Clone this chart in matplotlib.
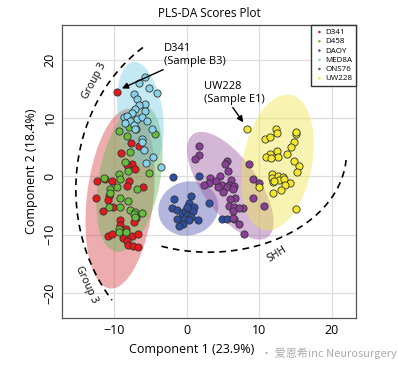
import numpy as np
import matplotlib.pyplot as plt
from matplotlib.patches import Ellipse

# scores (component 1, component 2)
d341_x = [-9.6, -7.7, -6.65, -9.08, -7.56, -7.1, -8.25, -12.4, -11.3, -10.3, -8.0, -8.25, -6.1,
          -12.5, -10.7, -10.9, -11.6, -10.2, -9.17, -7.0, -7.34, -9.17, -8.39, -10.9, -10.3,
          -8.72, -7.56, -6.79, -8.86, -8.25, -8.16, -7.47, -6.79]
d341_y = [14.5, 5.7, 5.3, 4.1, 2.2, 1.3, 1.9, -0.7, -0.4, -0.7, -0.7, -1.7, -1.9,
          -3.7, -3.4, -4.1, -5.9, -5.3, -7.4, -7.2, -7.9, -8.3, -9.1, -10.2, -9.9,
          -10.2, -10.2, -9.8, -10.6, -11.0, -11.7, -12.0, -12.1]

d458_x = [-9.4, -8.25, -4.34, -8.0, -7.0, -7.79, -8.52, -8.07, -5.27, -9.31, -9.17, -11.4, -10.6,
          -9.63, -6.87, -10.6, -9.17, -8.16, -10.7, -9.21, -7.79, -7.1, -6.18, -7.34, -7.1,
          -9.31, -9.31, -8.39]
d458_y = [7.8, 6.9, 7.2, 8.5, 8.1, 4.2, 2.5, 0.9, 0.6, 0.5, -0.4, -0.2, -2.1,
          -1.8, -2.1, -2.9, -3.7, -4.2, -5.3, -5.3, -5.8, -6.1, -6.3, -6.5, -6.9,
          -9.1, -9.6, -9.5]

daoy_x = [-1.96, 1.72, 0.57, -1.82, 3.1, 0.34, 1.03, -2.04, -1.4, -0.7, -0.21, 0.34, 0.8,
          -0.03, 0.57, -1.36, -0.44, 1.49, 0.25, -0.58, -1.03, 4.85, 5.49, -0.03]
daoy_y = [-0.1, 0.05, -3.3, -3.8, -4.6, -4.6, -5.3, -5.5, -5.8, -6.2, -5.9, -5.7, -5.9,
          -6.7, -7.0, -7.3, -7.3, -7.4, -7.5, -8.1, -8.5, -7.3, -7.3, -5.2]

med8a_x = [-5.72, -6.65, -5.27, -4.11, -7.34, -6.87, -5.72, -6.65, -7.1, -5.72, -7.56, -8.72,
           -8.25, -6.87, -6.18, -5.49, -7.79, -8.48, -7.34, -7.1, -4.8, -6.18, -6.18, -5.96,
           -4.72, -5.63, -3.56]
med8a_y = [17.1, 16.0, 15.1, 14.3, 14.1, 13.2, 12.5, 12.3, 11.5, 11.3, 10.9, 10.2,
           10.3, 9.8, 10.2, 9.5, 9.5, 9.2, 8.9, 8.2, 8.1, 6.5, 5.9, 4.6,
           3.3, 2.3, 1.6]

ons76_x = [1.63, 1.63, 1.17, 5.54, 5.31, 8.62, 5.63, 4.62, 3.24, 4.03, 6.1, 3.0, 2.41, 4.85,
           5.86, 6.55, 4.25, 5.49, 6.32, 5.03, 9.17, 9.08, 6.69, 6.0, 5.86, 6.55, 7.7, 7.14,
           6.32, 6.55, 7.24, 9.9, 10.6, 7.93, 6.32]
ons76_y = [5.2, 3.6, 3.0, 2.6, 2.1, 2.1, 0.9, 0.05, -0.2, -0.8, -0.6, -1.1, -1.5, -1.4,
           -1.4, -1.7, -1.8, -1.9, -2.2, -2.7, -0.5, -3.7, -3.7, -3.9, -5.0, -5.3, -5.4, -5.4,
           -6.0, -7.3, -8.2, -1.1, -5.0, -9.9, -7.1]

uw228_x = [8.3, 12.3, 12.4, 10.8, 11.4, 15.0, 15.1, 14.8, 14.4, 13.8, 12.4, 12.6, 11.4, 10.9,
           11.6, 14.8, 15.4, 15.2, 11.8, 11.8, 12.6, 13.2, 12.66, 13.45, 11.83, 14.28, 13.54,
           12.99, 11.83, 9.9, 12.07, 15.06]
uw228_y = [8.1, 8.2, 7.5, 6.5, 6.7, 7.3, 7.6, 5.9, 5.0, 3.8, 4.3, 3.4, 3.9, 3.4,
           3.2, 2.6, 1.8, 0.8, 0.5, -0.2, 0.0, -0.05, -0.6, -0.4, -0.9, -1.2, -1.5,
           -2.35, -2.9, -1.8, -0.8, -5.66]

groups = ["D341", "D458", "DAOY", "MED8A", "ONS76", "UW228"]
xs = [d341_x, d458_x, daoy_x, med8a_x, ons76_x, uw228_x]
ys = [d341_y, d458_y, daoy_y, med8a_y, ons76_y, uw228_y]
colors = ["#e5191c", "#66bd3b", "#2c4ea5", "#86d2e8", "#8a3e98", "#f3e82a"]
fill_colors = ["#d9474a", "#68b85a", "#70c8e0", "#5a5db5", "#a060a8", "#f0e650"]

# confidence ellipses: center x, center y, width, height, angle
ell_cx = [-9.2, -7.9, -6.4, 0.2, 6.0, 12.5]
ell_cy = [-3.8, -0.3, 10.6, -5.5, -1.6, 2.4]
ell_w = [9.2, 8.5, 6.2, 8.2, 20.5, 9.6]
ell_h = [31.0, 25.5, 18.2, 9.4, 8.0, 23.5]
ell_ang = [-5, -8, 6, -15, -62, -8]
ell_alpha = [0.45, 0.45, 0.4, 0.45, 0.45, 0.45]

plt.rcParams['font.family'] = ['Open Sans', 'DejaVu Sans']

fig = plt.figure(figsize=(3.98, 3.66), dpi=100)
ax = fig.add_axes([0.156, 0.131, 0.738, 0.801])

ax.grid(True, color="#dddddd", linewidth=0.9, zorder=0)
ax.set_axisbelow(True)

for i in range(len(groups)):
    e = Ellipse((ell_cx[i], ell_cy[i]), ell_w[i], ell_h[i], angle=ell_ang[i],
                facecolor=fill_colors[i], alpha=ell_alpha[i], edgecolor="none", zorder=1)
    ax.add_patch(e)

for i in range(len(groups)):
    ax.scatter(xs[i], ys[i], s=27, c=colors[i], edgecolors="#333333", linewidths=0.6,
               zorder=3, label=groups[i])

# dashed group arcs
t = np.radians(np.linspace(123, 221, 100))
ax.plot(5 + 20.3 * np.cos(t), -2.2 + 29.0 * np.sin(t), ls=(0, (4, 3)), color="black", lw=1.2, zorder=4)
t = np.radians(np.linspace(250, 356, 100))
ax.plot(3 + 19 * np.cos(t), 4 + 17 * np.sin(t), ls=(0, (4, 3)), color="black", lw=1.2, zorder=4)

ax.text(-12.8, 16.3, "Group 3", rotation=62, fontsize=7.5, ha="center", va="center")
ax.text(-13.8, -18.6, "Group 3", rotation=-65, fontsize=7.5, ha="center", va="center")
ax.text(12.4, -13.4, "SHH", rotation=32, fontsize=7.5, ha="center", va="center")

ax.annotate("D341\n(Sample B3)", xy=(d341_x[0] + 0.3, d341_y[0] + 0.4), xytext=(-3.1, 18.8),
            fontsize=8, ha="left", va="bottom", linespacing=1.2,
            arrowprops=dict(arrowstyle="-|>", color="black", lw=1, mutation_scale=9,
                            shrinkA=0, shrinkB=2), zorder=5)
ax.annotate("UW228\n(Sample E1)", xy=(uw228_x[0] - 0.3, uw228_y[0] + 0.8), xytext=(2.3, 12.3),
            fontsize=8, ha="left", va="bottom", linespacing=1.2,
            arrowprops=dict(arrowstyle="-|>", color="black", lw=1, mutation_scale=9,
                            shrinkA=0, shrinkB=2, relpos=(0.45, 0)), zorder=5)

ax.set_xlim(-17.2, 23.3)
ax.set_ylim(-24.3, 26.0)
ax.set_xticks([-10, 0, 10, 20])
ax.set_yticks([-20, -10, 0, 10, 20])
ax.tick_params(length=0, labelsize=9, pad=4)
plt.setp(ax.get_yticklabels(), rotation=90, va="center")
for s in ax.spines.values():
    s.set_color("#555555")
    s.set_linewidth(0.9)

ax.set_title("PLS-DA Scores Plot", fontsize=8.5, pad=6)
ax.set_xlabel("Component 1 (23.9%)", fontsize=9)
ax.set_ylabel("Component 2 (18.4%)", fontsize=9)
ax.xaxis.set_label_coords(0.44, -0.085)

leg = ax.legend(loc="upper right", borderaxespad=0, fontsize=5.8, markerscale=0.35,
                handletextpad=0.15, handlelength=1.1, labelspacing=0.2, fancybox=False,
                framealpha=1, edgecolor="#333333", borderpad=0.45)
for h in leg.legend_handles:
    h.set_edgecolor("none")

fig.text(0.655, 0.035, "· 爱恩希inc Neurosurgery", fontsize=8, color="#aaaaaa",
         family=["Noto Sans CJK SC", "DejaVu Sans"], ha="left", va="center")

fig.savefig("out.png", dpi=100)
